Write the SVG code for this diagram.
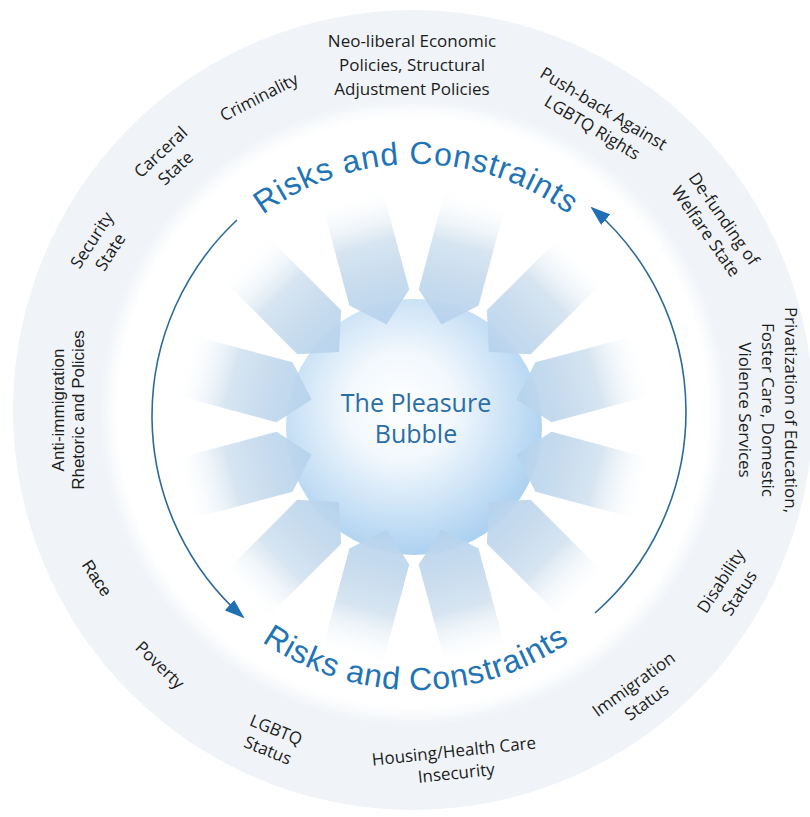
<svg xmlns="http://www.w3.org/2000/svg" width="810" height="817" viewBox="0 0 810 817">
  <defs>
    <style>
      .lab { font-family: "Open Sans", "Liberation Sans", sans-serif; font-size: 17px; fill: #1c1c1c; text-anchor: middle; }
      .labA { font-family: "Liberation Sans", Arial, sans-serif; font-size: 17px; fill: #1c1c1c; text-anchor: middle; }
      .risk { font-family: "Liberation Sans", Arial, sans-serif; font-size: 32px; fill: #1f74b6; letter-spacing: 0.8px; }
      .bub { font-family: "Open Sans", "Liberation Sans", sans-serif; font-size: 25px; fill: #2a6ea6; text-anchor: middle; }
      .cycle { fill: none; stroke: #2d6a98; stroke-width: 1.6; marker-end: url(#head); }
      .shaft { fill: url(#shaftGrad); }
    </style>
    <radialGradient id="innerGrad" cx="0.5" cy="0.5" r="0.5">
      <stop offset="0.94" stop-color="#ffffff"/>
      <stop offset="1" stop-color="#ffffff" stop-opacity="0"/>
    </radialGradient>
    <radialGradient id="bubbleGrad" cx="0.45" cy="0.42" r="0.6">
      <stop offset="0" stop-color="#ffffff"/>
      <stop offset="0.35" stop-color="#f2f8fd"/>
      <stop offset="1" stop-color="#a9cff0"/>
    </radialGradient>
    <linearGradient id="shaftGrad" x1="0" y1="0" x2="1" y2="0">
      <stop offset="0" stop-color="#b4d1ec" stop-opacity="0.9"/>
      <stop offset="0.3" stop-color="#c6dbee"/>
      <stop offset="0.6" stop-color="#d7e5f1"/>
      <stop offset="1" stop-color="#ffffff" stop-opacity="0"/>
    </linearGradient>
    <marker id="head" viewBox="0 0 20 14" markerWidth="20" markerHeight="14" refX="18" refY="7" orient="auto" markerUnits="userSpaceOnUse">
      <path d="M0,0 L20,7 L0,14 Z" fill="#1f70b5"/>
    </marker>
    <polygon id="shaft" points="106,0 134,-31 242,-31 242,31 134,31"/>
    <path id="topArc" d="M 160,420 A 256 256 0 0 1 672,420"/>
    <path id="botArc" d="M 146,420 A 270 270 0 0 0 686,420"/>
  </defs>

  <!-- outer ring and inner field -->
  <circle cx="413" cy="410" r="400" fill="#f0f4f8"/>
  <circle cx="413" cy="412" r="314" fill="url(#innerGrad)"/>

  <!-- the bubble body -->
  <g id="bubble">
    <circle cx="414" cy="427" r="128" fill="url(#bubbleGrad)"/>
  </g>

  <!-- pressure arrows pushing in on the bubble -->
  <g id="pressure" class="shaft" transform="translate(414,427)">
    <use href="#shaft" transform="rotate(-105)"/>
    <use href="#shaft" transform="rotate(-75)"/>
    <use href="#shaft" transform="rotate(-45)"/>
    <use href="#shaft" transform="rotate(-15)"/>
    <use href="#shaft" transform="rotate(15)"/>
    <use href="#shaft" transform="rotate(45)"/>
    <use href="#shaft" transform="rotate(75)"/>
    <use href="#shaft" transform="rotate(105)"/>
    <use href="#shaft" transform="rotate(135)"/>
    <use href="#shaft" transform="rotate(165)"/>
    <use href="#shaft" transform="rotate(195)"/>
    <use href="#shaft" transform="rotate(225)"/>
  </g>

  <g id="bubble-label">
    <text class="bub"><tspan x="416" y="412">The Pleasure</tspan><tspan x="416" y="443">Bubble</tspan></text>
  </g>

  <!-- cycle connectors -->
  <g id="connectors">
    <path class="cycle" d="M 237,220 A 268 268 0 0 0 243,617"/>
    <path class="cycle" d="M 595,613 A 268 268 0 0 0 592,208"/>
  </g>

  <g id="risks-top"><text class="risk"><textPath href="#topArc" startOffset="50%" text-anchor="middle">Risks and Constraints</textPath></text></g>
  <g id="risks-bottom"><text class="risk"><textPath href="#botArc" startOffset="50%" text-anchor="middle">Risks and Constraints</textPath></text></g>

  <!-- factors around the ring -->
  <g id="neoliberal"><text class="lab"><tspan x="412" y="47">Neo-liberal Economic</tspan><tspan x="412" y="71">Policies, Structural</tspan><tspan x="412" y="95">Adjustment Policies</tspan></text></g>
  <g id="pushback" transform="translate(598,118) rotate(31)"><text class="lab"><tspan x="0" y="-5">Push-back Against</tspan><tspan x="0" y="17">LGBTQ Rights</tspan></text></g>
  <g id="defunding" transform="translate(715,225) rotate(55)"><text class="lab"><tspan x="0" y="-5">De-funding of</tspan><tspan x="0" y="17">Welfare State</tspan></text></g>
  <g id="privatization" transform="translate(768,410) rotate(90)"><text class="lab"><tspan x="0" y="-17">Privatization of Education,</tspan><tspan x="0" y="6">Foster Care, Domestic</tspan><tspan x="0" y="29">Violence Services</tspan></text></g>
  <g id="disability" transform="translate(730,587) rotate(-57)"><text class="lab"><tspan x="0" y="-5">Disability</tspan><tspan x="0" y="17">Status</tspan></text></g>
  <g id="immigration" transform="translate(640,693) rotate(-36)"><text class="lab"><tspan x="0" y="-5">Immigration</tspan><tspan x="0" y="17">Status</tspan></text></g>
  <g id="housing" transform="translate(455,762) rotate(-6)"><text class="lab"><tspan x="0" y="-5">Housing/Health Care</tspan><tspan x="0" y="17">Insecurity</tspan></text></g>
  <g id="lgbtq" transform="translate(272,740) rotate(22)"><text class="lab"><tspan x="0" y="-5">LGBTQ</tspan><tspan x="0" y="17">Status</tspan></text></g>
  <g id="poverty" transform="translate(160,665) rotate(44)"><text class="lab" y="6">Poverty</text></g>
  <g id="race" transform="translate(97,578) rotate(57)"><text class="labA" y="6">Race</text></g>
  <g id="antiimmigration" transform="translate(68,410) rotate(-90)"><text class="labA"><tspan x="0" y="-4">Anti-immigration</tspan><tspan x="0" y="16">Rhetoric and Policies</tspan></text></g>
  <g id="security" transform="translate(101,246) rotate(-57)"><text class="lab"><tspan x="0" y="-5">Security</tspan><tspan x="0" y="17">State</tspan></text></g>
  <g id="carceral" transform="translate(168,160) rotate(-43)"><text class="lab"><tspan x="0" y="-5">Carceral</tspan><tspan x="0" y="17">State</tspan></text></g>
  <g id="criminality" transform="translate(259,97) rotate(-27)"><text class="lab" y="6">Criminality</text></g>
</svg>
